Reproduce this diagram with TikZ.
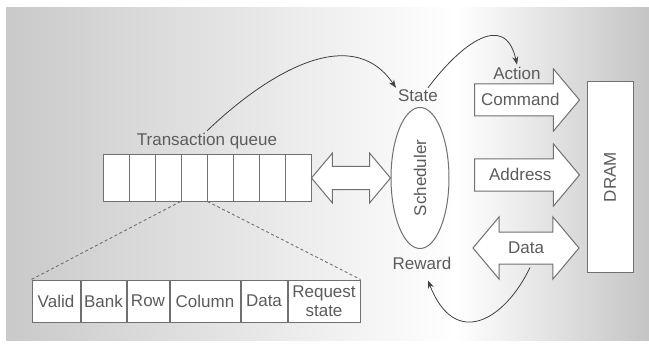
\documentclass[tikz,border=0pt]{standalone}
\usepackage{fontspec}
\setmainfont{Liberation Sans}
\usepackage{xcolor}
\usepackage{tikz}
\usetikzlibrary{arrows.meta, positioning, calc, shapes.geometric, shapes.arrows}
\definecolor{linegray}{HTML}{707070}
\definecolor{textgray}{HTML}{5C5C5C}
\pgfdeclarehorizontalshading{backshade}{100bp}{color(0bp)=(black!21); color(25bp)=(black!21); color(60bp)=(white); color(75bp)=(black!23); color(100bp)=(black!23)}
\newcommand{\diagfont}{\fontsize{17}{19}\selectfont}

\begin{document}
\begin{tikzpicture}[
    x=1pt, y=-1pt,
    font=\diagfont, text=textgray,
    cell/.style={draw=linegray, fill=white, line width=1pt, minimum width=26pt, minimum height=46pt, inner sep=0pt},
    field/.style={draw=linegray, fill=white, line width=1pt, minimum height=42pt, inner sep=0pt, align=center},
    lbl/.style={inner sep=2pt},
    bigarrow/.style={single arrow, draw=linegray, fill=white, line width=1pt, minimum height=105pt, single arrow head extend=15pt, single arrow tip angle=100, text height=12pt, text depth=1pt, inner ysep=9pt, inner xsep=0pt},
    bothway/.style={double arrow, draw=linegray, fill=white, line width=1pt, double arrow head extend=15pt, double arrow tip angle=100, text height=12pt, text depth=1pt, inner ysep=9pt, inner xsep=0pt},
    arr/.style={-{Stealth[length=8pt, width=6pt]}, draw=black!75, line width=0.8pt},
    dashlink/.style={draw=linegray, line width=0.9pt, dash pattern=on 3pt off 2.5pt},
]
\useasboundingbox (0,0) rectangle (649,345);
\shade[shading=backshade] (6,8) rectangle (649,340);

% transaction queue
\foreach \i in {1,...,8}
  \node[cell] (q\i) at ({103+26*(\i-0.5)},178) {};
\node[lbl] (qlabel) at (207,141) {Transaction queue};

% entry fields
\node[field, minimum width=48pt] (valid) at (56,301) {Valid};
\node[field, minimum width=45pt, right=0pt of valid] (bank) {Bank};
\node[field, minimum width=42pt, right=0pt of bank] (row) {Row};
\node[field, minimum width=70pt, right=0pt of row] (column) {Column};
\node[field, minimum width=46pt, right=0pt of column] (fdata) {Data};
\node[field, minimum width=72pt, right=0pt of fdata] (reqst) {Request\\state};
\draw[dashlink] (q4.south west) -- (valid.north west);
\draw[dashlink] (q4.south east) -- (reqst.north east);

% scheduler
\node[ellipse, draw=linegray, fill=white, line width=1pt, minimum width=58pt, minimum height=141pt, inner sep=0pt] (sched) at (420,178) {};
\node[rotate=90] (schedtext) at (sched.center) {Scheduler};
\node[lbl] (state) at (418,96) {State};
\node[lbl] (reward) at (422,263) {Reward};
\node[bothway, text height=0pt, text depth=0pt, inner ysep=11pt, double arrow head extend=13.5pt, minimum height=79pt] (link) at ($(q8.east)!0.5!(sched.west)$) {};

% DRAM side
\node[draw=linegray, fill=white, line width=1pt, rotate=90, minimum width=190pt, minimum height=46pt] (dram) at (610,177) {DRAM};
\node[bigarrow, anchor=tail] (cmd) at (474,100) {Command};
\node[bigarrow, anchor=tail] (addr) at (474,175) {Address};
\node[bothway, minimum height=106pt] (data) at (526,248) {Data};
\node[lbl] (action) at (517,73) {Action};

\draw[arr] (qlabel.north) .. controls (262,78) and (350,20) .. (state.north west);
\draw[arr] ($(state.north)+(10,0)$) .. controls (460,45) and (505,10) .. (action.north);
\draw[arr] ($(data.south)+(4,3)$) .. controls (505,320) and (455,350) .. ($(reward.south)+(6,9)$);
\end{tikzpicture}
\end{document}
